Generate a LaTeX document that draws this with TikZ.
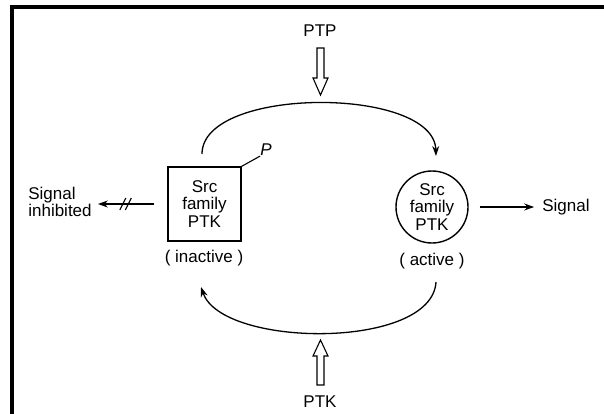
\documentclass[tikz,border=0pt]{standalone}
\usepackage{fontspec}
\setmainfont{Liberation Sans}
\usetikzlibrary{arrows.meta,decorations.markings}
\begin{document}
\begin{tikzpicture}[x=1pt,y=-1pt,
  lbl/.style={font=\fontsize{17}{17.5}\selectfont, inner sep=0pt, align=center},
  state/.style={lbl, draw, line width=1.4pt},
  conn/.style={line width=1.3pt, -{Stealth[length=10pt,width=7pt]}},
  hollow/.style={line width=1.1pt, line join=miter},
  slashes/.style={postaction={decorate}, decoration={markings,
    mark=at position 26pt with {\draw[line width=1.1pt,-] (-3pt,-6pt) -- (3pt,6pt);},
    mark=at position 31.5pt with {\draw[line width=1.1pt,-] (-3pt,-6pt) -- (3pt,6pt);}}}]
\useasboundingbox (0,0) rectangle (604,414);
\fill[white] (0,0) rectangle (604,414);
% frame
\draw[line width=4pt] (12,414) -- (12,7) -- (604,7);

% the two states of the kinase
\node[state, minimum width=73pt, minimum height=74pt] (inact) at (204.5,204) {Src\\family\\PTK};
\node[state, circle, minimum size=72pt] (act) at (432,207) {Src\\family\\PTK};
\node[lbl] (inactlbl) at (204,258) {( inactive )};
\node[lbl] (actlbl) at (432,261) {( active )};

% phosphate on the inactive form
\node[lbl, font=\fontsize{17}{17.5}\selectfont\itshape] (p) at (266,150) {P};
\draw[line width=1.1pt] (inact.north east) -- (p.south west);

% enzymes
\node[lbl] (ptp) at (320,31) {PTP};
\node[lbl] (ptk) at (320,402) {PTK};

% outputs
\node[lbl, align=left] (sigin) at (60,202) {Signal\\inhibited};
\node[lbl] (sig) at (566,207) {Signal};

% cycle between the two forms
\coordinate (t1) at (202,154);
\coordinate (t2) at (436,156);
\draw[conn] (t1) .. controls (202,86) and (434,86) .. (t2);
\coordinate (b1) at (436,282);
\coordinate (b2) at (201,287);
\draw[conn] (b1) .. controls (432,350) and (222,348) .. (b2);

% hollow arrows for the enzymes
\draw[hollow] (320.5,95) -- (313,78) -- (317,78) -- (317,48) -- (324,48) -- (324,78) -- (328,78) -- cycle;
\draw[hollow] (320.5,340) -- (313,356) -- (317,356) -- (317,385) -- (324,385) -- (324,356) -- (328,356) -- cycle;

% signalling arrows
\draw[conn, slashes] ([xshift=-13pt]inact.west) -- ([xshift=6pt]inact.west -| sigin.east);
\draw[conn] ([xshift=11pt]act.east) -- ([xshift=-8pt]act.east -| sig.west);
\end{tikzpicture}
\end{document}
